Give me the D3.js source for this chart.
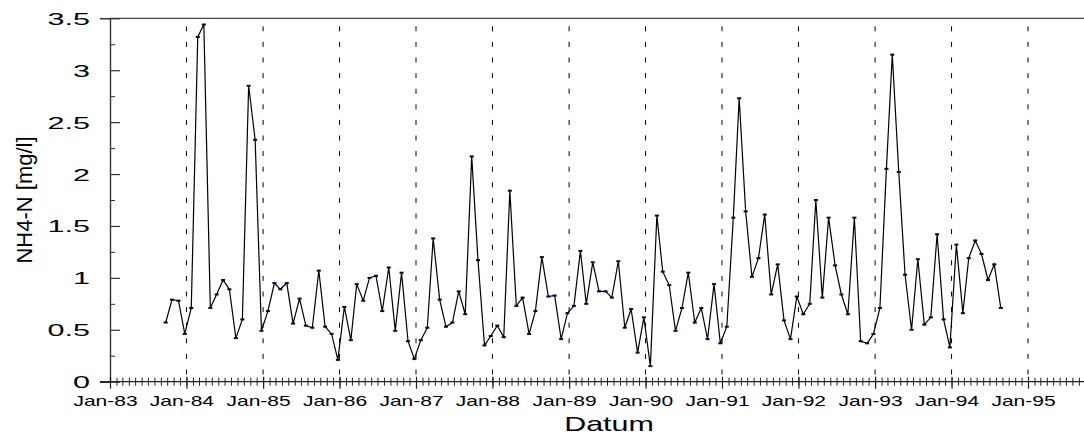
<!DOCTYPE html>
<html>
<head>
<meta charset="utf-8">
<script src="https://cdn.jsdelivr.net/npm/d3@7"></script>
<style>
  html, body { margin: 0; padding: 0; background: #fff; }
  svg { display: block; font-family: "Liberation Sans", Arial, sans-serif; }
</style>
</head>
<body>
<svg id="chart" width="1084" height="441"></svg>
<script>
// ---- data ----
const firstSample = "1983-09-24";           // first monthly sample
const nh4Values = [
  0.57, 0.79, 0.78, 0.46, 0.71, 3.32, 3.44, 0.71, 0.84, 0.98, 0.89, 0.42, 0.60, 2.85, 2.33, 0.49,
  0.68, 0.95, 0.89, 0.95, 0.56, 0.80, 0.54, 0.52, 1.07, 0.53, 0.46, 0.21, 0.72, 0.40, 0.94, 0.78,
  1.00, 1.02, 0.68, 1.10, 0.49, 1.05, 0.39, 0.22, 0.40, 0.52, 1.38, 0.79, 0.53, 0.57, 0.87, 0.65,
  2.17, 1.17, 0.35, 0.44, 0.54, 0.43, 1.84, 0.73, 0.81, 0.46, 0.68, 1.20, 0.82, 0.83, 0.41, 0.66,
  0.73, 1.26, 0.75, 1.15, 0.87, 0.87, 0.81, 1.16, 0.52, 0.70, 0.28, 0.62, 0.15, 1.60, 1.06, 0.93,
  0.49, 0.71, 1.05, 0.57, 0.71, 0.41, 0.94, 0.37, 0.53, 1.58, 2.73, 1.64, 1.01, 1.19, 1.61, 0.84,
  1.13, 0.59, 0.41, 0.82, 0.65, 0.75, 1.75, 0.81, 1.58, 1.12, 0.84, 0.65, 1.58, 0.39, 0.37, 0.46,
  0.71, 2.05, 3.15, 2.02, 1.03, 0.50, 1.18, 0.55, 0.62, 1.42, 0.60, 0.33, 1.32, 0.66, 1.19, 1.36,
  1.23, 0.98, 1.13, 0.71
];
const xTickLabels = ["Jan-83","Jan-84","Jan-85","Jan-86","Jan-87","Jan-88","Jan-89",
                     "Jan-90","Jan-91","Jan-92","Jan-93","Jan-94","Jan-95"];
const yTickValues = [0, 0.5, 1, 1.5, 2, 2.5, 3, 3.5];
const yMinorValues = [0.25, 0.75, 1.25, 1.75, 2.25, 2.75, 3.25];
const xTitle = "Datum";
const yTitle = "NH4-N [mg/l]";

// ---- build ----
(function () {
const parse = d3.timeParse("%Y-%m-%d");
const t0 = parse(firstSample);
const dates = nh4Values.map((_, i) => d3.timeMonth.offset(t0, i));
const series = nh4Values.map((v, i) => ({ date: dates[i], value: v }));
const yearDates = xTickLabels.map(s => d3.timeParse("%b-%y")(s));

const svg = d3.select("#chart");
const pLeft = 110, pRight = 1084, pTop = 18.3, pBottom = 381.7;

const x = d3.scaleTime()
  .domain([yearDates[0], yearDates[yearDates.length - 1]])
  .range([pLeft, 1028]);
const xEnd = x.invert(pRight);
const y = d3.scaleLinear().domain([0, 3.5]).range([pBottom, pTop]);

function stretch(sel, k) {
  sel.each(function () {
    const w = this.getComputedTextLength();
    d3.select(this).attr("textLength", w * k).attr("lengthAdjust", "spacingAndGlyphs");
  });
}

// dashed yearly gridlines
svg.append("g").selectAll("line")
  .data(yearDates.slice(1))
  .join("line")
  .attr("x1", d => x(d)).attr("x2", d => x(d))
  .attr("y1", pTop).attr("y2", pBottom)
  .attr("stroke", "#000").attr("stroke-width", 1)
  .attr("stroke-dasharray", "5,10.6").attr("stroke-dashoffset", 7.6);

// top border
svg.append("line")
  .attr("x1", pLeft).attr("x2", pRight).attr("y1", y(3.5)).attr("y2", y(3.5))
  .attr("stroke", "#444").attr("stroke-width", 1.2);

// y axis major
const gY = svg.append("g").attr("transform", `translate(${pLeft},0)`)
  .call(d3.axisLeft(y).tickValues(yTickValues).tickSize(10).tickPadding(10)
        .tickFormat(d => String(d)));
gY.select(".domain").attr("stroke", "#333").attr("stroke-width", 1.4);
gY.selectAll(".tick line").attr("x2", 10).attr("stroke", "#333").attr("stroke-width", 1.2);
gY.selectAll(".tick text")
  .attr("font-size", 16.5).attr("fill", "#000")
  .attr("font-family", "'Liberation Sans', Arial, sans-serif")
  .attr("dy", null).attr("y", 6);
stretch(gY.selectAll(".tick text"), 1.85);

// y axis minor
const gYm = svg.append("g").attr("transform", `translate(${pLeft},0)`)
  .call(d3.axisLeft(y).tickValues(yMinorValues).tickSize(4).tickFormat(""));
gYm.select(".domain").remove();
gYm.selectAll(".tick line").attr("x2", 5).attr("stroke", "#333");

// x axis baseline
svg.append("line")
  .attr("x1", pLeft - 10).attr("x2", pRight).attr("y1", pBottom).attr("y2", pBottom)
  .attr("stroke", "#222").attr("stroke-width", 1.2);

// x axis minor monthly ticks
const months = d3.timeMonth.range(yearDates[0], xEnd);
const gXm = svg.append("g").attr("transform", `translate(0,${pBottom})`)
  .call(d3.axisBottom(x).tickValues(months).tickSize(4).tickFormat(""));
gXm.select(".domain").remove();
gXm.selectAll(".tick line").attr("y1", -4).attr("stroke", "#222");

// x axis major yearly ticks + labels
const fmt = d3.timeFormat("%b-%y");
const gX = svg.append("g").attr("transform", `translate(0,${pBottom})`)
  .call(d3.axisBottom(x).tickValues(yearDates).tickSize(7).tickFormat(d => fmt(d)));
gX.select(".domain").remove();
gX.selectAll(".tick line").attr("y1", -5).attr("stroke", "#222").attr("stroke-width", 1.2);
gX.selectAll(".tick text")
  .attr("font-size", 15).attr("fill", "#000")
  .attr("font-family", "'Liberation Sans', Arial, sans-serif")
  .attr("dy", null).attr("y", 24).attr("x", -5);
stretch(gX.selectAll(".tick text"), 1.4);

// line
const line = d3.line().x(d => x(d.date)).y(d => y(d.value));
svg.append("path").datum(series)
  .attr("d", line).attr("fill", "none")
  .attr("stroke", "#000").attr("stroke-width", 1.2);

// markers
svg.append("g").selectAll("rect")
  .data(series).join("rect")
  .attr("x", d => x(d.date) - 2).attr("y", d => y(d.value) - 1)
  .attr("width", 4).attr("height", 2)
  .attr("fill", "#00004a");

// titles
const xt = svg.append("text")
  .attr("x", 609).attr("y", 431).attr("text-anchor", "middle")
  .attr("font-size", 21).attr("fill", "#000").text(xTitle);
stretch(xt, 1.45);

svg.append("text")
  .attr("transform", "translate(32,200) rotate(-90)")
  .attr("text-anchor", "middle")
  .attr("font-size", 22).attr("fill", "#000").text(yTitle);
})();
</script>
</body>
</html>
